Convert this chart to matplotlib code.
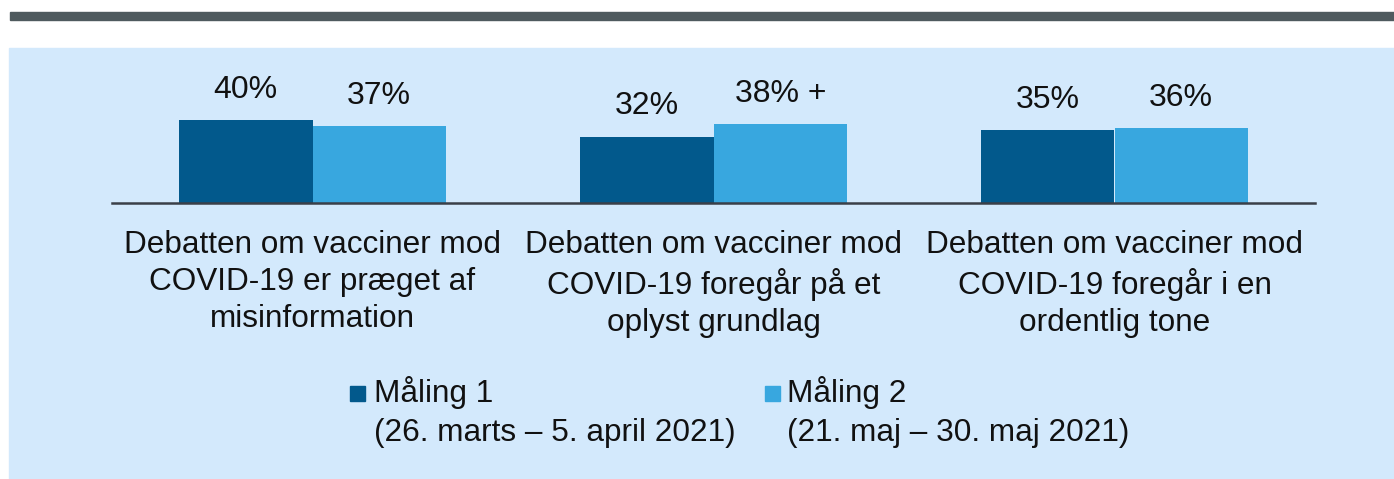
import numpy as np
import matplotlib.pyplot as plt
from matplotlib.patches import Rectangle

# Data
categories = [
    "Debatten om vacciner mod\nCOVID-19 er præget af\nmisinformation",
    "Debatten om vacciner mod\nCOVID-19 foregår på et\noplyst grundlag",
    "Debatten om vacciner mod\nCOVID-19 foregår i en\nordentlig tone",
]
maaling1 = [40, 32, 35]
maaling2 = [37, 38, 36]
maaling2_marks = ["", " +", ""]
series_names = ["Måling 1", "Måling 2"]
series_periods = ["(26. marts – 5. april 2021)", "(21. maj – 30. maj 2021)"]

DARK = "#02598c"
LIGHT = "#38a7df"
PANEL = "#d3e9fc"
FONT = "Liberation Sans"
TXT = 22.7

W, H = 1394, 479
fig = plt.figure(figsize=(W / 100, H / 100), dpi=100)
fig.patch.set_facecolor("white")

# top grey rule + light blue panel (behind the axes)
fig.patches.append(Rectangle((10 / W, 1 - 20 / H), 1 - 10 / W, 8 / H,
                             transform=fig.transFigure, color="#4f5a5e", zorder=-5))
fig.patches.append(Rectangle((9 / W, 0), 1 - 9 / W, 1 - 48 / H,
                             transform=fig.transFigure, color=PANEL, zorder=-5))

base_y = 203.5
ax = fig.add_axes([112 / W, 1 - base_y / H, 1203 / W, (base_y - 48) / H])
ax.set_facecolor("none")
px_per_pct = 2.09
ax.set_ylim(0, (base_y - 48) / px_per_pct)
ax.set_xlim(-0.5, 2.5)

x = np.arange(len(categories))
w = 0.333
b1 = ax.bar(x - w / 2, maaling1, w, color=DARK, label=series_names[0])
b2 = ax.bar(x + w / 2, maaling2, w, color=LIGHT, label=series_names[1])

for rect, v in zip(b1, maaling1):
    ax.annotate(f"{v}%", (rect.get_x() + rect.get_width() / 2, v),
                xytext=(0, 16), textcoords="offset points",
                ha="center", va="baseline", fontsize=23, family=FONT, color="#111111")
for rect, v, m in zip(b2, maaling2, maaling2_marks):
    ax.annotate(f"{v}%{m}", (rect.get_x() + rect.get_width() / 2, v),
                xytext=(0, 16), textcoords="offset points",
                ha="center", va="baseline", fontsize=23, family=FONT, color="#111111")

for s in ["top", "right", "left"]:
    ax.spines[s].set_visible(False)
ax.spines["bottom"].set_color("#3a3f48")
ax.spines["bottom"].set_linewidth(1.8)
ax.set_yticks([])
ax.set_xticks(x)
ax.set_xticklabels(categories, fontsize=TXT, family=FONT, color="#111111", linespacing=1.3)
ax.tick_params(axis="x", length=0, pad=19)

# legend drawn by hand
legend_items = [(350, 374, DARK), (765, 787, LIGHT)]
for (sq_x, tx, col), name, period in zip(legend_items, series_names, series_periods):
    fig.patches.append(Rectangle((sq_x / W, 1 - 401 / H), 15 / W, 15 / H,
                                 transform=fig.transFigure, color=col))
    fig.text(tx / W, 1 - 402 / H, name, ha="left", va="baseline",
             fontsize=TXT, family=FONT, color="#111111")
    fig.text(tx / W, 1 - 441 / H, period, ha="left", va="baseline",
             fontsize=TXT, family=FONT, color="#111111")

fig.savefig("out.png", dpi=100)
